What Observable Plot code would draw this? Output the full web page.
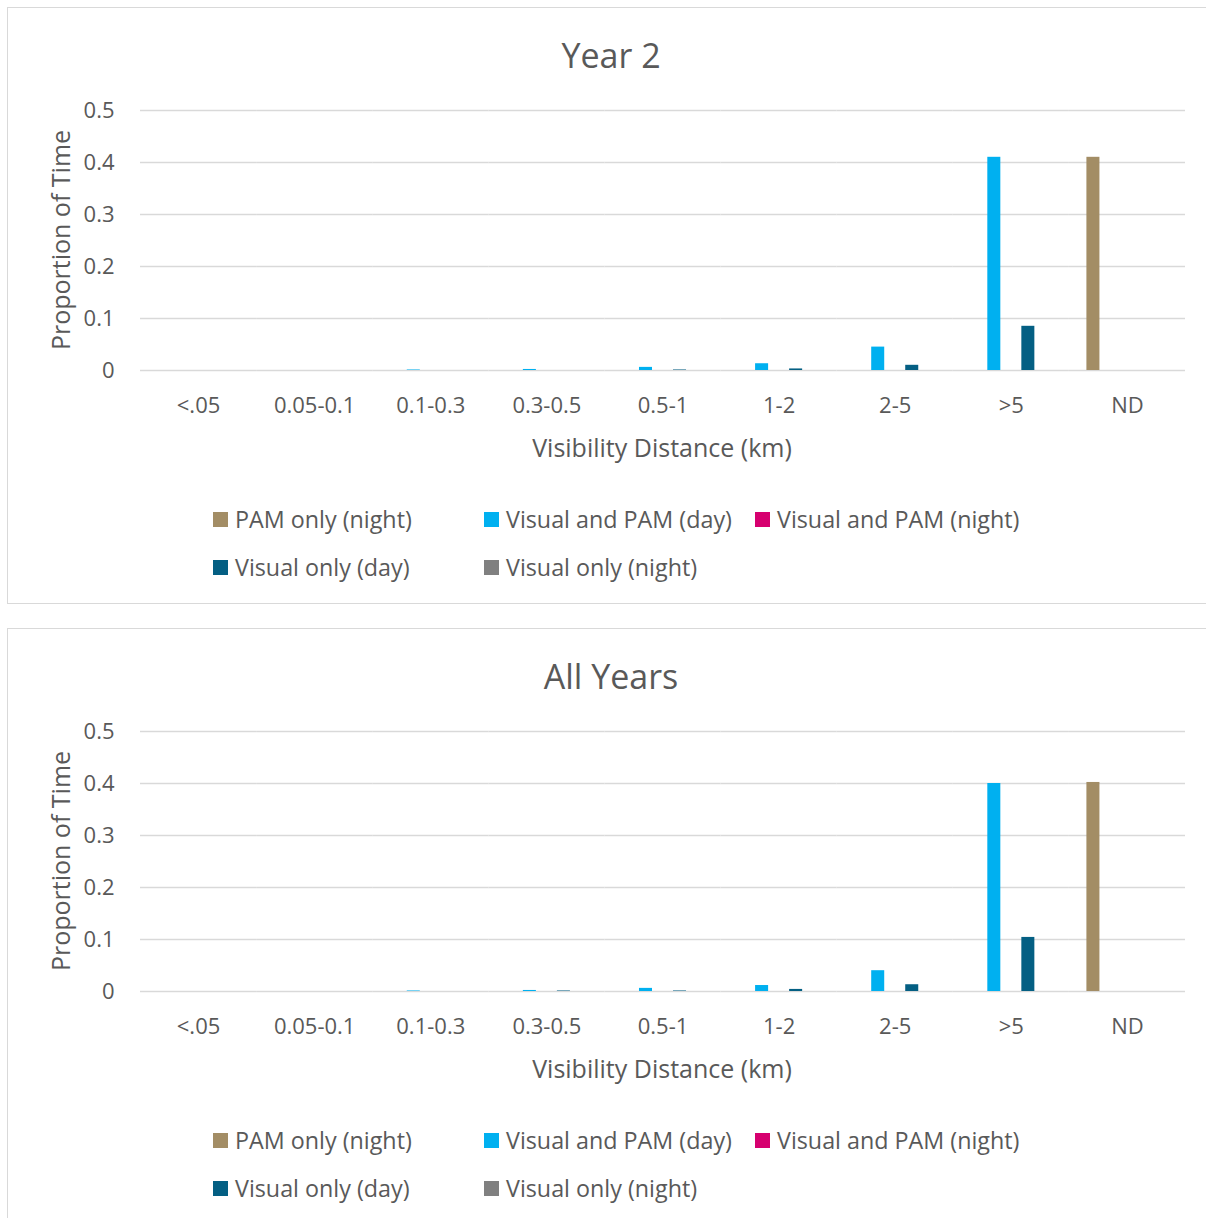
<!DOCTYPE html>
<html>
<head>
<meta charset="utf-8">
<script src="https://cdn.jsdelivr.net/npm/d3@7"></script>
<script src="https://cdn.jsdelivr.net/npm/@observablehq/plot@0.6"></script>
<style>
  html, body { margin: 0; padding: 0; background: #fff; width: 1206px; height: 1218px; overflow: hidden; }
  body { position: relative; font-family: "Open Sans", "Noto Sans", sans-serif; color: #595959; }
  .panel { position: absolute; left: 7px; width: 1230px; border: 1.5px solid #d9d9d9; box-sizing: border-box; background: #fff; }
  .title { position: absolute; text-align: center; font-size: 34px; color: #595959; line-height: 1; }
  .xlabel { position: absolute; width: 600px; text-align: center; font-size: 25px; color: #595959; line-height: 1; }
  .ylabel { position: absolute; font-size: 25px; color: #595959; line-height: 30px; transform: rotate(-90deg); transform-origin: center center; white-space: nowrap; width: 300px; text-align: center; }
  .chart { position: absolute; }
  .legend { position: absolute; font-size: 23.3px; color: #595959; }
  .legend .item { position: absolute; white-space: nowrap; display: flex; align-items: center; height: 32px; }
  .legend .sw { width: 15px; height: 15px; margin-right: 7px; display: inline-block; }
</style>
</head>
<body>
<div id="root"></div>
<script>
// Visibility distance bins along the x axis
const categories = ["<.05", "0.05-0.1", "0.1-0.3", "0.3-0.5", "0.5-1", "1-2", "2-5", ">5", "ND"];

// Detection modes (one bar per mode in each bin)
const series = ["PAM only (night)", "Visual and PAM (day)", "Visual and PAM (night)", "Visual only (day)", "Visual only (night)"];
const colors = ["#a38d65", "#00b0f0", "#d6006f", "#045f83", "#808080"];

// Proportion of time, per bin, for each mode — Year 2
const year2PamNight      = [0, 0, 0, 0, 0, 0, 0, 0, 0.41];
const year2VisPamDay     = [0, 0, 0.001, 0.002, 0.006, 0.013, 0.045, 0.41, 0];
const year2VisPamNight   = [0, 0, 0, 0, 0, 0, 0, 0, 0];
const year2VisOnlyDay    = [0, 0, 0, 0, 0.001, 0.003, 0.01, 0.085, 0];
const year2VisOnlyNight  = [0, 0, 0, 0, 0, 0, 0, 0, 0];

// Proportion of time, per bin, for each mode — All Years
const allPamNight        = [0, 0, 0, 0, 0, 0, 0, 0, 0.402];
const allVisPamDay       = [0, 0, 0.001, 0.002, 0.006, 0.0115, 0.04, 0.40, 0];
const allVisPamNight     = [0, 0, 0, 0, 0, 0, 0, 0, 0];
const allVisOnlyDay      = [0, 0, 0, 0.001, 0.001, 0.004, 0.013, 0.104, 0];
const allVisOnlyNight    = [0, 0, 0, 0, 0, 0, 0, 0, 0];

const yTicks = [0, 0.1, 0.2, 0.3, 0.4, 0.5];

function toRows(columns) {
  const rows = [];
  columns.forEach((vals, si) => {
    vals.forEach((v, ci) => rows.push({cat: categories[ci], series: series[si], value: v}));
  });
  return rows;
}

const panels = [
  {title: "Year 2", top: 7, height: 597, data: toRows([year2PamNight, year2VisPamDay, year2VisPamNight, year2VisOnlyDay, year2VisOnlyNight])},
  {title: "All Years", top: 628, height: 600, data: toRows([allPamNight, allVisPamDay, allVisPamNight, allVisOnlyDay, allVisOnlyNight])}
];

const root = document.getElementById("root");
const FONT = '"Open Sans", "Noto Sans", sans-serif';

panels.forEach(p => {
  const panel = document.createElement("div");
  panel.className = "panel";
  panel.style.top = p.top + "px";
  panel.style.height = p.height + "px";
  root.appendChild(panel);

  const title = document.createElement("div");
  title.className = "title";
  title.textContent = p.title;
  title.style.top = (p.top + 31) + "px";
  title.style.left = "7px";
  title.style.width = "1208px";
  root.appendChild(title);

  const chart = Plot.plot({
    width: 1199,
    height: 390,
    marginLeft: 133,
    marginRight: 21,
    marginTop: 20,
    marginBottom: 110,
    style: {fontFamily: FONT, fontSize: "22px", color: "#595959", background: "transparent", overflow: "visible"},
    fx: {domain: categories, padding: 0, round: false, label: null, tickSize: 0, tickPadding: 27, axis: "bottom"},
    x: {domain: series, paddingInner: 0.235, paddingOuter: 1.03, round: false, axis: null},
    y: {domain: [0, 0.5], ticks: yTicks, tickSize: 0, tickPadding: 26, tickFormat: d => String(d), label: null},
    color: {domain: series, range: colors},
    marks: [
      Plot.ruleY(yTicks, {stroke: "#d9d9d9", strokeWidth: 1.4}),
      Plot.barY(p.data, {fx: "cat", x: "series", y: "value", fill: "series"})
    ]
  });
  chart.classList.add("chart");
  chart.style.left = "7px";
  chart.style.top = (p.top + 83) + "px";
  root.appendChild(chart);

  const xl = document.createElement("div");
  xl.className = "xlabel";
  xl.textContent = "Visibility Distance (km)";
  xl.style.left = (662 - 300) + "px";
  xl.style.top = (p.top + 428) + "px";
  root.appendChild(xl);

  const yl = document.createElement("div");
  yl.className = "ylabel";
  yl.textContent = "Proportion of Time";
  yl.style.left = (60 - 150) + "px";
  yl.style.top = (p.top + 233 - 15) + "px";
  root.appendChild(yl);

  const legend = document.createElement("div");
  legend.className = "legend";
  legend.style.left = "0px";
  legend.style.top = "0px";
  const pos = [[213, 513], [484, 513], [755, 513], [213, 561], [484, 561]];
  series.forEach((s, i) => {
    const item = document.createElement("div");
    item.className = "item";
    item.style.left = pos[i][0] + "px";
    item.style.top = (p.top + pos[i][1] - 17) + "px";
    const sw = document.createElement("span");
    sw.className = "sw";
    sw.style.background = colors[i];
    const tx = document.createElement("span");
    tx.textContent = s;
    item.appendChild(sw);
    item.appendChild(tx);
    legend.appendChild(item);
  });
  root.appendChild(legend);
});
</script>
</body>
</html>
